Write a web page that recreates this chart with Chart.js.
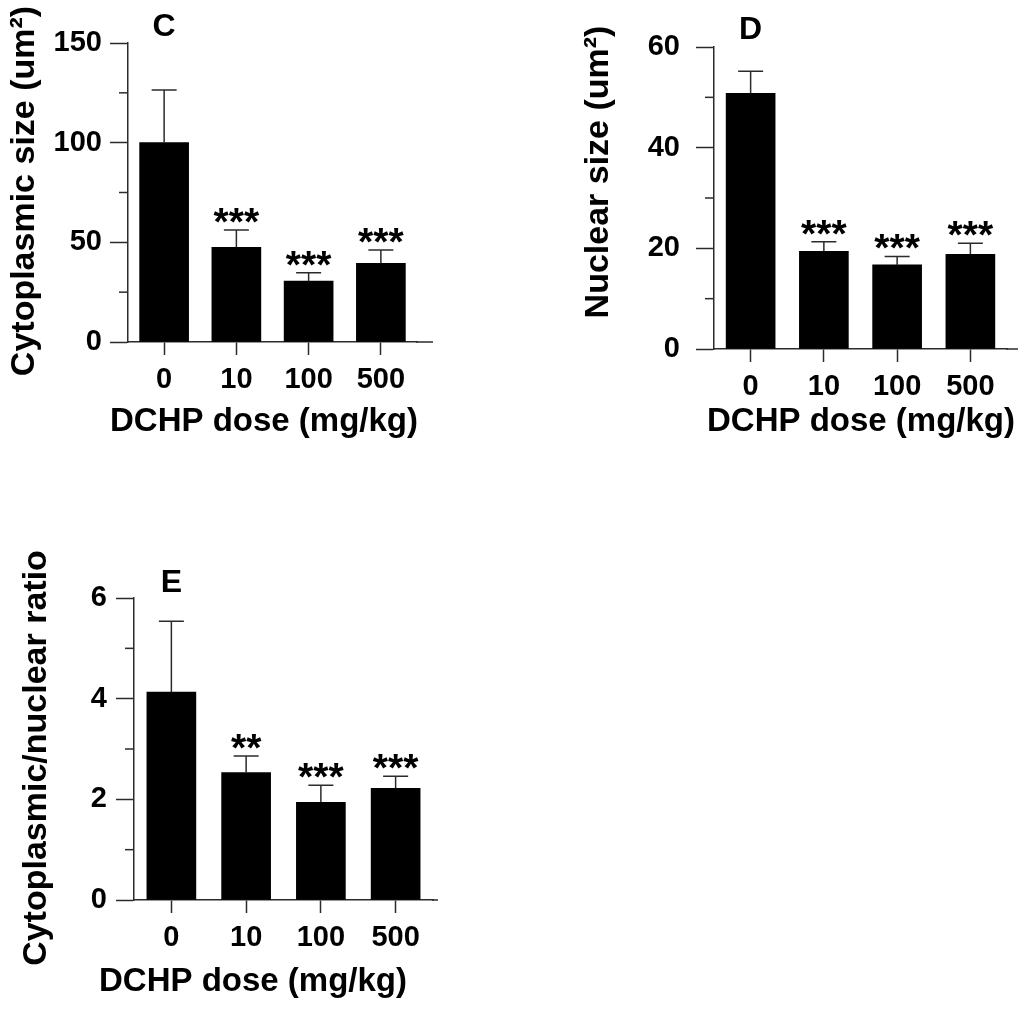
<!DOCTYPE html>
<html lang="en">

<head>
  <meta charset="UTF-8">
  <title>DCHP dose panels</title>
  <script src="https://cdn.jsdelivr.net/npm/chart.js"></script>
  <style>
    body { margin: 0; background: #fff; }
    canvas { position: absolute; }
  </style>
</head>

<body>
  <canvas id="chartC" width="450" height="450" style="left:0;top:0"></canvas>
  <canvas id="chartD" width="454" height="450" style="left:570px;top:0"></canvas>
  <canvas id="chartE" width="450" height="471" style="left:0;top:540px"></canvas>

  <script>
    // dose groups (x axis)
    const doses = ['0', '10', '100', '500'];

    // C: cytoplasmic size, mean and upper error (SEM)
    const cytoMean = [100, 47.5, 30.6, 39.5];
    const cytoErr = [26.4, 8.7, 4.2, 6.7];
    const cytoStars = ['', '***', '***', '***'];

    // D: nuclear size
    const nucMean = [50.8, 19.4, 16.7, 18.8];
    const nucErr = [4.4, 1.9, 1.7, 2.2];
    const nucStars = ['', '***', '***', '***'];

    // E: cytoplasmic/nuclear ratio
    const ratioMean = [4.13, 2.53, 1.94, 2.22];
    const ratioErr = [1.41, 0.33, 0.34, 0.24];
    const ratioStars = ['', '**', '***', '***'];

    const FONT = "'Liberation Sans', Arial, sans-serif";
    const axisColor = '#2b2b2b';

    // minor y ticks, extended x axis, error bars, stars, panel letter and axis titles
    const extrasPlugin = {
      id: 'extras',
      afterDatasetsDraw(chart) {
        const cfg = chart.options.plugins.extras;
        const { ctx, chartArea } = chart;
        const xs = chart.scales.x;
        const ys = chart.scales.y;
        ctx.save();
        ctx.strokeStyle = axisColor;
        ctx.lineWidth = 1.5;

        // minor ticks
        for (let v = cfg.minor; v < ys.max; v += cfg.minor * 2) {
          const y = ys.getPixelForValue(v);
          ctx.beginPath();
          ctx.moveTo(chartArea.left - 9, y);
          ctx.lineTo(chartArea.left, y);
          ctx.stroke();
        }

        // x axis runs a bit past the last bar
        const y0 = ys.getPixelForValue(0);
        ctx.beginPath();
        ctx.moveTo(chartArea.right - 1, y0);
        ctx.lineTo(chartArea.right + cfg.extend, y0);
        ctx.stroke();

        // error bars (upper only)
        cfg.mean.forEach((m, i) => {
          const x = xs.getPixelForValue(i);
          const yb = ys.getPixelForValue(m);
          const yt = ys.getPixelForValue(m + cfg.err[i]);
          ctx.beginPath();
          ctx.moveTo(x, yb);
          ctx.lineTo(x, yt);
          ctx.moveTo(x - 12.5, yt);
          ctx.lineTo(x + 12.5, yt);
          ctx.stroke();

          if (cfg.stars[i]) {
            ctx.fillStyle = '#000';
            ctx.font = 'bold 39px ' + FONT;
            ctx.textAlign = 'center';
            ctx.textBaseline = 'alphabetic';
            ctx.fillText(cfg.stars[i], x, yt + 5);
          }
        });

        ctx.fillStyle = '#000';
        ctx.textAlign = 'center';
        ctx.textBaseline = 'middle';

        // panel letter over the first bar
        ctx.font = 'bold 32px ' + FONT;
        ctx.fillText(cfg.letter, xs.getPixelForValue(0), chartArea.top - cfg.letterGap);

        // x axis title
        ctx.font = 'bold 33px ' + FONT;
        ctx.fillText('DCHP dose (mg/kg)', cfg.xTitle[0], cfg.xTitle[1]);

        // y axis title
        ctx.font = 'bold 34px ' + FONT;
        ctx.translate(cfg.yTitleAt[0], cfg.yTitleAt[1]);
        ctx.rotate(-Math.PI / 2);
        ctx.fillText(cfg.yTitle, 0, 0);
        ctx.restore();
      }
    };

    function createChart(id, o) {
      const canvas = document.getElementById(id);
      const W = canvas.width, H = canvas.height;
      return new Chart(canvas.getContext('2d'), {
        type: 'bar',
        data: {
          labels: doses,
          datasets: [{
            data: o.mean,
            backgroundColor: '#000',
            borderWidth: 0,
            barThickness: 49
          }]
        },
        plugins: [extrasPlugin],
        options: {
          responsive: false,
          animation: false,
          layout: { padding: { left: 0, top: o.area.top, right: W - o.area.right, bottom: 0 } },
          plugins: {
            legend: { display: false },
            tooltip: { enabled: false },
            extras: {
              mean: o.mean, err: o.err, stars: o.stars, minor: o.minor,
              extend: o.extend, letter: o.letter, letterGap: o.letterGap,
              xTitle: o.xTitle, yTitle: o.yTitle, yTitleAt: o.yTitleAt
            }
          },
          scales: {
            x: {
              offset: true,
              border: { display: true, color: axisColor, width: 1.5 },
              grid: { drawOnChartArea: false, offset: false, tickLength: 13, color: axisColor, tickColor: axisColor, tickWidth: 1.5 },
              ticks: { color: '#000', font: { family: FONT, size: 29, weight: 'bold' }, padding: 8, maxRotation: 0 },
              afterFit: s => { s.height = H - o.area.bottom; }
            },
            y: {
              min: 0,
              max: o.max,
              border: { display: true, color: axisColor, width: 1.5 },
              grid: { drawOnChartArea: false, tickLength: 18, color: axisColor, tickColor: axisColor, tickWidth: 1.5 },
              ticks: { stepSize: o.step, color: '#000', font: { family: FONT, size: 29, weight: 'bold' }, padding: o.tickPad },
              afterFit: s => { s.width = o.area.left; }
            }
          }
        }
      });
    }

    createChart('chartC', {
      mean: cytoMean, err: cytoErr, stars: cytoStars,
      max: 150, step: 50, minor: 25, letter: 'C', letterGap: 16,
      yTitle: 'Cytoplasmic size (um²)', yTitleAt: [25, 191], xTitle: [264, 422],
      area: { left: 128, top: 43, right: 417, bottom: 342 },
      extend: 16, tickPad: 8
    });

    createChart('chartD', {
      mean: nucMean, err: nucErr, stars: nucStars,
      max: 60, step: 20, minor: 10, letter: 'D', letterGap: 17,
      yTitle: 'Nuclear size (um²)', yTitleAt: [29, 172], xTitle: [291, 422],
      area: { left: 144, top: 47, right: 437, bottom: 349 },
      extend: 11, tickPad: 16
    });

    createChart('chartE', {
      mean: ratioMean, err: ratioErr, stars: ratioStars,
      max: 6, step: 2, minor: 1, letter: 'E', letterGap: 15,
      yTitle: 'Cytoplasmic/nuclear ratio', yTitleAt: [37, 218], xTitle: [253, 442],
      area: { left: 134, top: 58, right: 433, bottom: 360 },
      extend: 5, tickPad: 9
    });
  </script>
</body>

</html>
